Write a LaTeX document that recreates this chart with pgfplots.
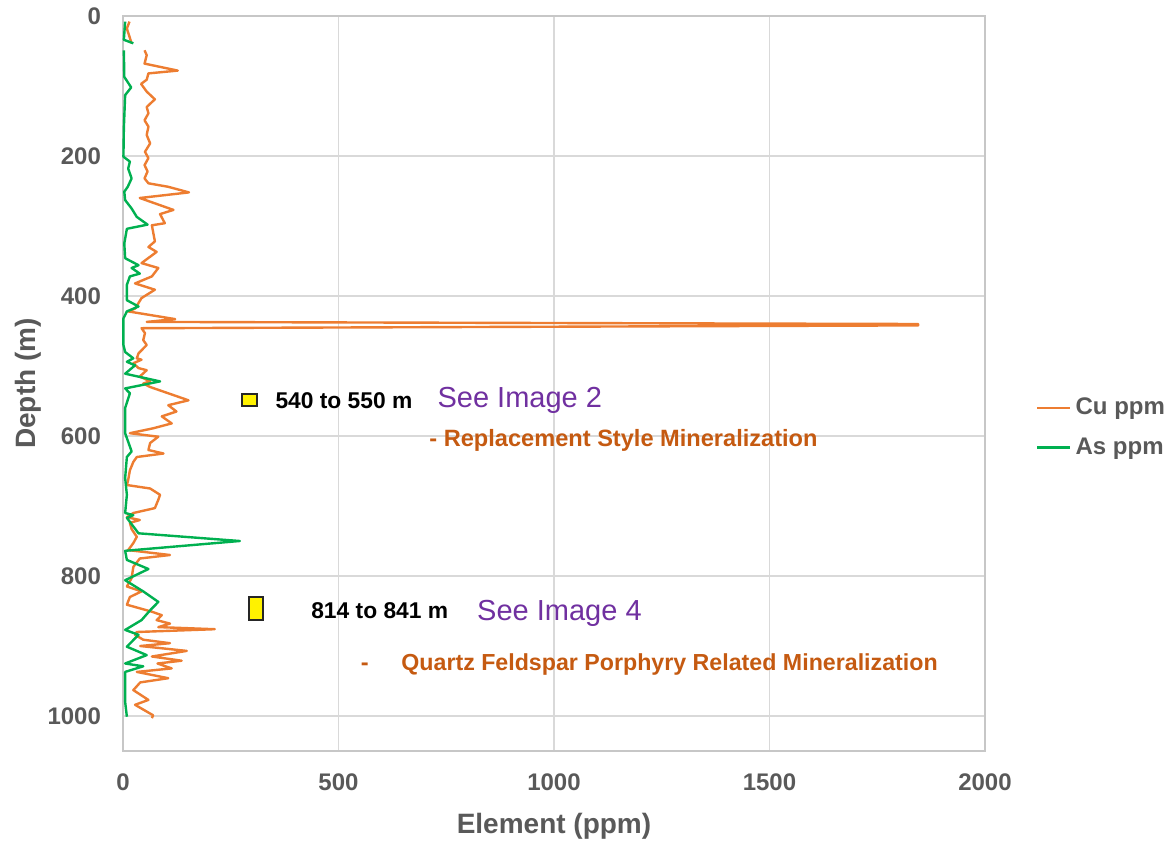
\documentclass[border=0pt]{standalone}
\usepackage{fontspec}
\setmainfont{Liberation Sans}
\usepackage{pgfplots}
\pgfplotsset{compat=1.18}

\definecolor{cuorange}{HTML}{ED7D31}
\definecolor{asgreen}{HTML}{00B050}
\definecolor{txtgray}{HTML}{595959}
\definecolor{seepurple}{HTML}{7030A0}
\definecolor{minorange}{HTML}{C55A11}
\definecolor{gridgray}{HTML}{D9D9D9}

\begin{document}
\begin{tikzpicture}
\path[use as bounding box] (-61.5pt,-45pt) rectangle (526pt,375.5pt);
\begin{axis}[
    at={(0,0)}, anchor=south west,
    scale only axis,
    width=431pt, height=367.5pt,
    xmin=0, xmax=2000,
    ymin=0, ymax=1050,
    y dir=reverse,
    xtick={0,500,1000,1500,2000},
    ytick={0,200,400,600,800,1000},
    major tick length=0pt,
    grid=major,
    major grid style={gridgray, line width=0.6pt},
    axis line style={draw=gridgray!80!gray, line width=0.8pt},
    /pgf/number format/assume math mode=true,
    /pgf/number format/1000 sep={},
    ticklabel style={font=\bfseries\fontsize{12}{14}\selectfont, text=txtgray},
    xticklabel style={yshift=-8pt},
    yticklabel style={xshift=-7.5pt},
    xlabel={Element (ppm)},
    ylabel={Depth (m)},
    label style={font=\bfseries\fontsize{14}{16}\selectfont, text=txtgray},
    xlabel style={yshift=-4pt},
    ylabel style={yshift=-4pt},
    unbounded coords=jump,
    clip=false,
    legend style={draw=none, fill=none, at={(axis description cs:1.059,0.44)},
        anchor=west, font=\bfseries\fontsize{12}{14}\selectfont, text=txtgray,
        row sep=6pt, inner sep=0pt},
    legend cell align=left,
    legend image code/.code={\draw[#1] (0pt,0pt) -- (16.5pt,0pt);},
]
\addplot[cuorange, line width=1.2pt, line join=round] table {
x y
15 8
9 18
20 39
nan nan
50 49
55 56
50 68
127 78
59 82
55 91
42 97
55 108
74 119
55 130
59 139
50 149
59 158
55 170
63 182
51 194
59 203
50 213
57 222
50 232
59 239
105 244
153 252
39 260
117 277
86 283
97 296
67 299
74 322
59 330
78 337
43 353
82 360
67 372
28 382
74 391
43 403
36 410
28 418
12 422
121 433
55 437
1845 440
1845 442
43 446
51 453
47 463
55 470
36 482
32 489
43 491
24 496
36 503
55 506
39 515
63 522
47 525
63 530
152 549
105 556
124 565
90 572
113 582
70 589
16 596
82 601
63 610
59 620
94 625
32 630
24 637
16 649
12 663
9 670
63 675
86 684
82 691
74 703
24 710
9 716
39 720
16 724
20 733
32 744
24 753
12 763
109 770
39 775
24 787
20 803
9 815
43 822
16 830
9 841
67 851
90 856
78 863
109 868
82 873
213 876
32 880
28 884
47 891
109 896
40 900
148 907
67 915
136 921
80 925
113 932
32 937
105 946
40 952
24 963
59 977
28 984
70 999
67 1003
};
\addlegendentry{Cu ppm}
\addplot[asgreen, line width=1.2pt, line join=round] table {
x y
5 8
2 34
24 39
nan nan
2 49
3 87
19 102
5 113
2 160
1 201
16 208
12 218
20 232
11 244
3 251
5 263
20 275
32 287
57 298
9 304
3 325
5 346
36 356
20 360
39 368
16 372
9 384
9 406
36 415
9 422
1 432
1 470
5 480
24 489
9 494
28 499
5 511
86 522
5 532
16 539
5 560
5 596
20 622
9 630
5 660
9 684
5 710
24 713
9 717
36 739
271 750
5 764
9 777
59 790
5 806
47 822
82 837
63 849
43 863
5 877
36 884
9 901
55 913
5 925
47 929
5 937
5 980
9 1001
};
\addlegendentry{As ppm}

\draw[fill=yellow, draw=black!85, line width=1pt] (axis cs:275,540) rectangle (axis cs:310,557);
\draw[fill=yellow, draw=black!85, line width=1pt] (axis cs:292,830) rectangle (axis cs:325,863);

\node[anchor=west, inner sep=0pt, font=\bfseries\fontsize{11.4}{13}\selectfont, text=black]
    at (axis cs:353,549) {540 to 550 m};
\node[anchor=west, inner sep=0pt, font=\fontsize{14.5}{17}\selectfont, text=seepurple]
    at (axis cs:729,549) {See Image 2};
\node[anchor=west, inner sep=0pt, font=\bfseries\fontsize{11.8}{14}\selectfont, text=minorange]
    at (axis cs:710,606) {- Replacement Style Mineralization};
\node[anchor=west, inner sep=0pt, font=\bfseries\fontsize{11.4}{13}\selectfont, text=black]
    at (axis cs:436,850) {814 to 841 m};
\node[anchor=west, inner sep=0pt, font=\fontsize{14.5}{17}\selectfont, text=seepurple]
    at (axis cs:821,853) {See Image 4};
\node[inner sep=0pt, font=\bfseries\fontsize{11.8}{14}\selectfont, text=minorange]
    at (axis cs:561,930) {-};
\node[anchor=west, inner sep=0pt, font=\bfseries\fontsize{11.6}{14}\selectfont, text=minorange]
    at (axis cs:645,927) {Quartz Feldspar Porphyry Related Mineralization};
\end{axis}
\end{tikzpicture}
\end{document}
